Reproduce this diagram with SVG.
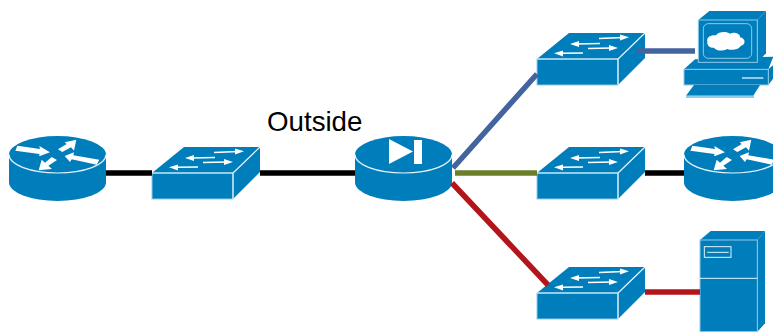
<svg xmlns="http://www.w3.org/2000/svg" width="773" height="332" viewBox="0 0 773 332">
<style>
.body{fill:#007dbb}
.edge{fill:#007dbb;stroke:#8fcbea;stroke-width:1}
.top{fill:#007dbb}
.hi{fill:none;stroke:#e6f3fa;stroke-width:1.2}
.wh{fill:#fff}
.wl{fill:none;stroke:#fff;stroke-width:1.4}
.link{fill:none;stroke-width:5.500}
.label{font-family:"Liberation Sans",Arial,sans-serif;font-size:27.7px;fill:#000}
</style>
<defs>
<g id="cyl">
<path class="body" d="M9 154.500V182.500A48.500 18.500 0 0 0 106 182.500V154.500Z"/>
<ellipse class="body" cx="57.500" cy="154.500" rx="48.500" ry="18.500"/>
<path class="hi" d="M9 154.500A48.500 18.500 0 0 0 106 154.500"/>
</g>
<g id="router-sym">
<use href="#cyl"/>
<g transform="translate(0,120) scale(.3333)">
<polygon class="wh" points="46,92 52,77 120,87 118,78 150,97 118,109 118,102"/>
<polygon class="wh" points="229,59 222,92 213,82 187,96 174,88 200,72 194,67"/>
<polygon class="wh" points="194,108 222,97 220,106 298,119 290,134 215,118 210,126"/>
<polygon class="wh" points="116,151 125,119 135,128 155,111 171,120 145,137 156,147"/>
</g>
</g>
<g id="switch-sym">
<polygon class="top" points="0,26 32,0 108,0 81,26"/>
<polygon class="top" points="81,26 108,0 108,25 81,52"/>
<rect class="edge" x="0" y="26" width="81" height="26"/>
<path class="hi" d="M0 26H81V52M81 26L108 0"/>
<path class="wl" d="M62 5.500L86 4.500M63 10.500L39 11M51 15.500L75 15M46 20L23 20.300"/>
<polygon class="wh" points="92,4.300 83,1.500 83,7.500"/>
<polygon class="wh" points="33,11 42,8 42,14"/>
<polygon class="wh" points="81,15 72,12 72,18"/>
<polygon class="wh" points="17,20.300 26,17.500 26,23.500"/>
</g>
</defs>
<g id="router-left"><use href="#router-sym"/></g>
<g id="switch-outside"><use href="#switch-sym" x="152" y="147"/></g>
<g id="firewall">
<use href="#cyl" x="346"/>
<polygon class="wh" points="389,139 413,151.500 389,164"/>
<rect class="wh" x="414" y="140" width="8" height="24"/>
</g>
<g id="switch-top"><use href="#switch-sym" x="537" y="33"/></g>
<g id="switch-middle"><use href="#switch-sym" x="537" y="147"/></g>
<g id="switch-bottom"><use href="#switch-sym" x="537" y="267"/></g>
<g id="pc">
<g transform="translate(670,0) scale(.3333)">
<polygon class="top" points="42,208 75,178 310,170 295,208"/>
<polygon class="top" points="295,208 310,195 310,235 295,255"/>
<rect class="edge" style="stroke-width:3" x="42" y="208" width="253" height="47"/>
<polygon class="top" points="85,60 118,33 288,33 262,60"/>
<polygon class="top" points="262,60 288,33 288,160 262,187"/>
<rect class="edge" style="stroke-width:3" x="85" y="60" width="177" height="127"/>
<rect class="edge" style="stroke-width:3" x="100" y="71" width="145" height="104" rx="15"/>
<path class="wh" d="M112 125C108 108 128 105 138 106C146 94 170 94 180 101C195 94 212 103 210 112C228 115 228 135 212 138C205 150 185 152 172 147C155 155 138 152 132 143C120 145 110 135 112 125Z"/>
<rect x="216" y="231" width="64" height="6" fill="#8fcbea"/>
<polygon class="top" points="48,287 72,255 270,255 250,287"/>
<rect x="48" y="287" width="204" height="7" fill="#8fcbea"/>
</g>
</g>
<g id="router-right"><use href="#router-sym" x="675"/></g>
<g id="server">
<g transform="translate(680,225) scale(.3333)">
<polygon class="top" points="60,45 92,18 255,18 232,45"/>
<polygon class="top" points="232,45 255,18 255,295 232,320"/>
<rect class="edge" style="stroke-width:3" x="60" y="45" width="172" height="275"/>
<path class="hi" style="stroke-width:3" d="M60 160H232"/>
<rect class="hi" style="stroke-width:3" x="73" y="65" width="80" height="32"/>
<path class="hi" style="stroke-width:3" d="M82 82H146"/>
</g>
</g>
<g id="connectors">
<path class="link" stroke="#000" d="M106 173H152M260 173H355M645 173H684"/>
<path class="link" stroke="#4464a0" d="M453 168L537 74M638 51H695"/>
<path class="link" stroke="#6b7f2a" d="M455 173H537"/>
<path class="link" stroke="#b2161b" d="M452 183L548 285M645 292H700"/>
</g>
<text class="label" x="267" y="131">Outside</text>
</svg>
